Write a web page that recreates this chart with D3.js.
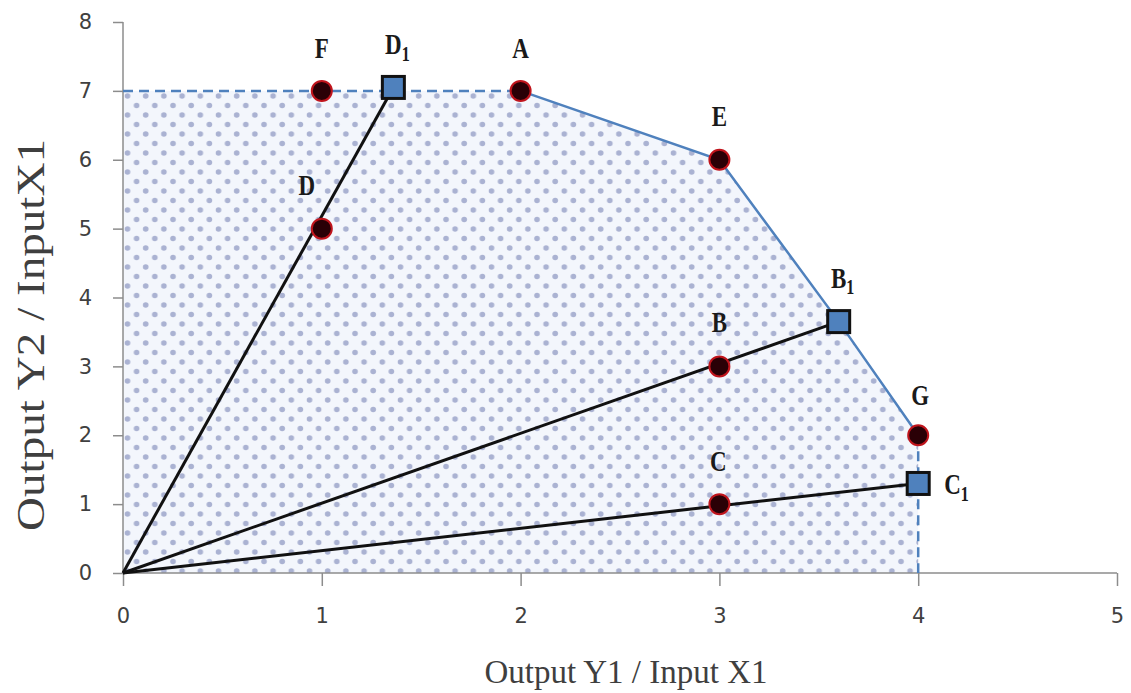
<!DOCTYPE html>
<html>
<head>
<meta charset="utf-8">
<script src="https://cdn.jsdelivr.net/npm/d3@7"></script>
<style>
  html, body { margin: 0; padding: 0; background: #fff; }
  svg { display: block; }
</style>
</head>
<body>
<svg id="chart" width="1131" height="693"></svg>
<script>
// Observed units (Output Y1 / Input X1, Output Y2 / Input X1)
const unitNames = ["F", "D", "A", "E", "B", "G", "C"];
const unitX = [1, 1, 2, 3, 3, 4, 3];
const unitY = [7, 5, 7, 6, 3, 2, 1];

// Projected points on the frontier
const projNames = ["D", "B", "C"];
const projX = [1.36, 3.6, 4];
const projY = [7.05, 3.65, 1.3];

// Frontier vertices (production possibility set boundary)
const frontierX = [0, 2, 3, 3.6, 4, 4];
const frontierY = [7, 7, 6, 3.65, 2, 0];

const xTicks = [0, 1, 2, 3, 4, 5];
const yTicks = [0, 1, 2, 3, 4, 5, 6, 7, 8];

const svg = d3.select("#chart");
const margin = { left: 123, right: 14, top: 22, bottom: 120 };
const W = 1131, H = 693;

const x = d3.scaleLinear().domain([0, 5]).range([margin.left, W - margin.right]);
const y = d3.scaleLinear().domain([0, 8]).range([H - margin.bottom, margin.top]);

// Dotted fill pattern
const defs = svg.append("defs");
const pat = defs.append("pattern")
  .attr("id", "dots").attr("patternUnits", "userSpaceOnUse")
  .attr("width", 18.2).attr("height", 19).attr("x", 123).attr("y", 91);
pat.append("rect").attr("width", 18.2).attr("height", 19).attr("fill", "#f3f6fc");
pat.append("circle").attr("cx", 4.5).attr("cy", 5).attr("r", 2.8).attr("fill", "#aab2d2");
pat.append("circle").attr("cx", 13.6).attr("cy", 14.5).attr("r", 2.8).attr("fill", "#aab2d2");

// Shaded feasible region
const region = [[0, 0]].concat(frontierX.map((d, i) => [d, frontierY[i]]));
svg.append("path")
  .attr("d", d3.line().x(d => x(d[0])).y(d => y(d[1]))(region) + "Z")
  .attr("fill", "url(#dots)");

// Axes
const axisColor = "#8c8c8c";
const xAxis = svg.append("g")
  .attr("transform", `translate(0,${y(0)})`)
  .call(d3.axisBottom(x).tickValues(xTicks).tickSize(13).tickPadding(22).tickFormat(d3.format("d")));
const yAxis = svg.append("g")
  .attr("transform", `translate(${x(0)},0)`)
  .call(d3.axisLeft(y).tickValues(yTicks).tickSize(10).tickPadding(21).tickFormat(d3.format("d")));
[xAxis, yAxis].forEach(g => {
  g.select(".domain").attr("stroke", axisColor).attr("stroke-width", 1.5);
  g.selectAll(".tick line").attr("stroke", axisColor).attr("stroke-width", 1.5);
  g.selectAll(".tick text")
    .attr("fill", "#404040")
    .style("font-family", "'DejaVu Sans', Verdana, sans-serif")
    .style("font-size", "21px");
});
xAxis.select(".domain").attr("d", `M${x(0)},0H${x(5)}`);
yAxis.select(".domain").attr("d", `M0,${y(0)}V${y(8)}`);

// Frontier: dashed top and right edges, solid facets
const blue = "#4f81bd";
const line = d3.line().x(d => x(d[0])).y(d => y(d[1]));
const fpts = frontierX.map((d, i) => [d, frontierY[i]]);
svg.append("path").attr("d", line(fpts.slice(0, 2)))
  .attr("fill", "none").attr("stroke", blue).attr("stroke-width", 2.5).attr("stroke-dasharray", "10,6");
svg.append("path").attr("d", line(fpts.slice(1, 5)))
  .attr("fill", "none").attr("stroke", blue).attr("stroke-width", 2.5);
svg.append("path").attr("d", line(fpts.slice(4, 6)))
  .attr("fill", "none").attr("stroke", blue).attr("stroke-width", 2.5).attr("stroke-dasharray", "10,6");

// Rays from the origin to each projected point
projX.forEach((px, i) => {
  svg.append("line")
    .attr("x1", x(0)).attr("y1", y(0))
    .attr("x2", x(px)).attr("y2", y(projY[i]))
    .attr("stroke", "#111").attr("stroke-width", 3);
});

// Observed units
unitX.forEach((ux, i) => {
  svg.append("circle")
    .attr("cx", x(ux)).attr("cy", y(unitY[i])).attr("r", 10)
    .attr("fill", "#2a0006").attr("stroke", "#c0141c").attr("stroke-width", 2);
});

// Projected points
projX.forEach((px, i) => {
  svg.append("rect")
    .attr("x", x(px) - 11).attr("y", y(projY[i]) - 11)
    .attr("width", 22).attr("height", 22)
    .attr("fill", blue).attr("stroke", "#111").attr("stroke-width", 3);
});

// Point labels
const labels = [
  { t: "F", s: "", x: 1, y: 7, dx: 0, dy: -33, a: "middle" },
  { t: "D", s: "1", x: 1.36, y: 7.05, dx: 4, dy: -33, a: "middle" },
  { t: "A", s: "", x: 2, y: 7, dx: 0, dy: -33, a: "middle" },
  { t: "E", s: "", x: 3, y: 6, dx: 0, dy: -34, a: "middle" },
  { t: "D", s: "", x: 1, y: 5, dx: -15, dy: -34, a: "middle" },
  { t: "B", s: "1", x: 3.6, y: 3.65, dx: 4, dy: -34, a: "middle" },
  { t: "B", s: "", x: 3, y: 3, dx: 0, dy: -34, a: "middle" },
  { t: "G", s: "", x: 4, y: 2, dx: 2, dy: -30, a: "middle" },
  { t: "C", s: "", x: 3, y: 1, dx: -1, dy: -33, a: "middle" },
  { t: "C", s: "1", x: 4, y: 1.3, dx: 26, dy: 11, a: "start" }
];
labels.forEach(l => {
  const g = svg.append("g")
    .attr("transform", `translate(${x(l.x) + l.dx},${y(l.y) + l.dy}) scale(1,1.25)`);
  const t = g.append("text")
    .attr("text-anchor", l.a)
    .attr("fill", "#1a1a1a")
    .style("font-family", "'Liberation Serif', 'Times New Roman', serif")
    .style("font-size", "23px").style("font-weight", "bold");
  t.append("tspan").text(l.t);
  if (l.s) t.append("tspan").attr("dy", 5).style("font-size", "16px").text(l.s);
});

// Axis titles
svg.append("text")
  .attr("x", 626).attr("y", 683).attr("text-anchor", "middle")
  .attr("fill", "#3f3f3f")
  .style("font-family", "'Liberation Serif', 'Times New Roman', serif")
  .style("font-size", "33px")
  .text("Output Y1 / Input X1");
svg.append("text")
  .attr("transform", `translate(44,335) rotate(-90)`)
  .attr("text-anchor", "middle")
  .attr("fill", "#3f3f3f")
  .attr("textLength", 392).attr("lengthAdjust", "spacingAndGlyphs")
  .style("font-family", "'Liberation Serif', 'Times New Roman', serif")
  .style("font-size", "39px")
  .text("Output Y2 / InputX1");
</script>
</body>
</html>
